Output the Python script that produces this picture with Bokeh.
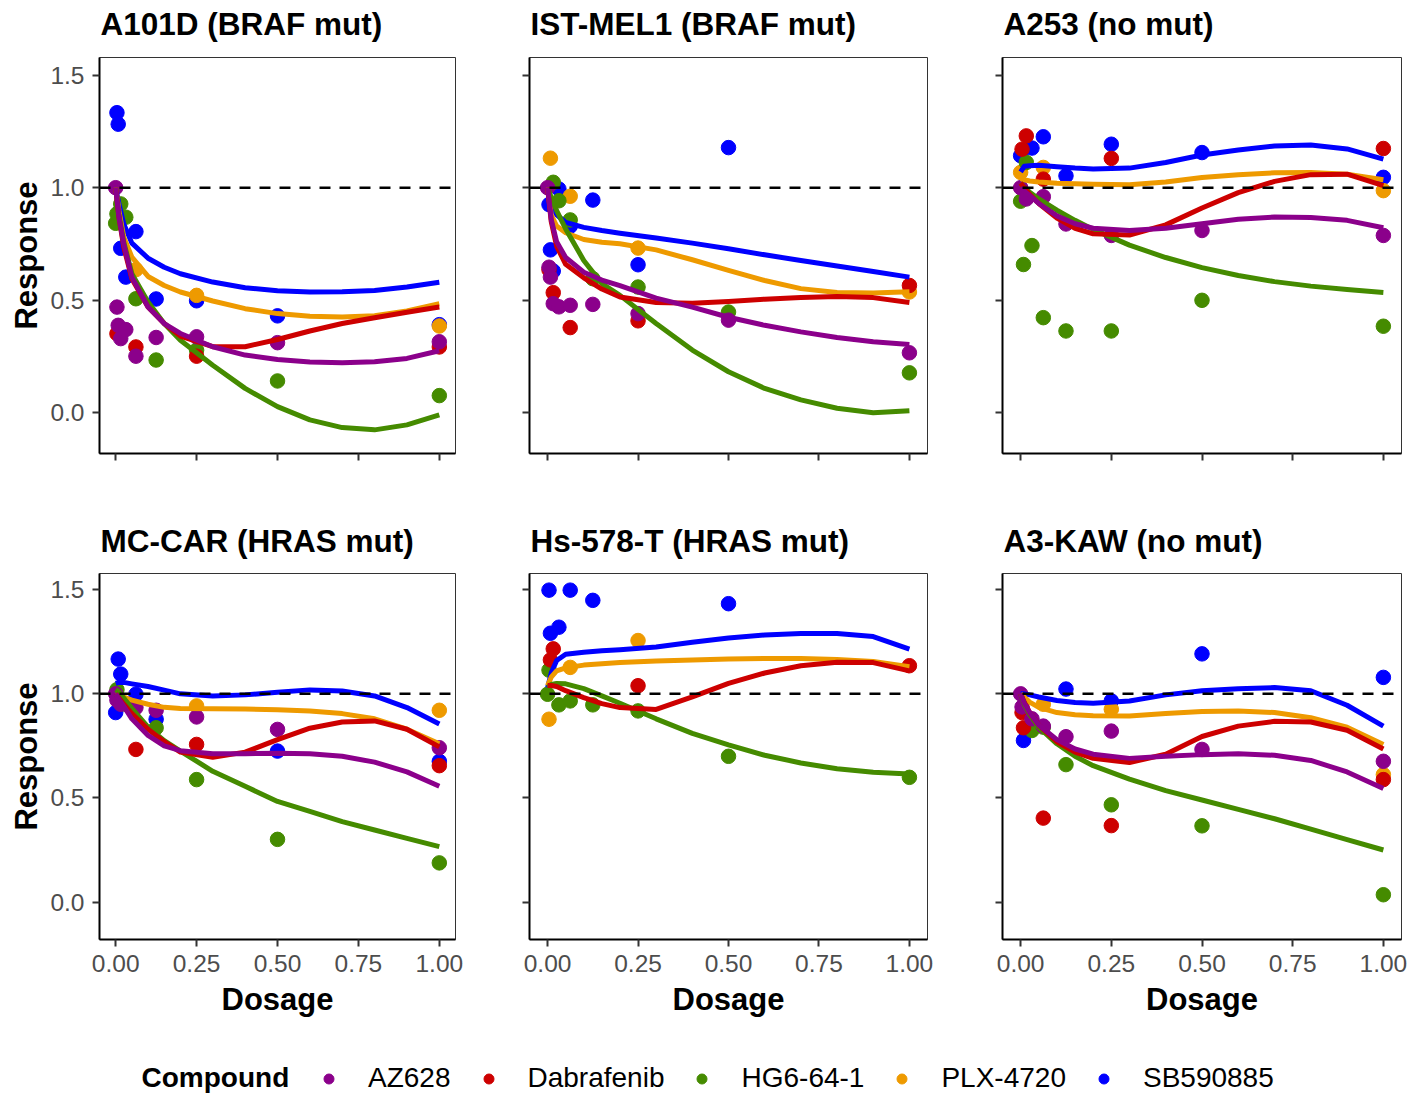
import numpy as np
from bokeh.plotting import figure
from bokeh.layouts import column, row
from bokeh.models import (Range1d, Span, FixedTicker, NumeralTickFormatter,
                          Legend, LegendItem, Label)
from bokeh.embed import file_html
from bokeh.resources import INLINE

FONT = "Liberation Sans"

COMPOUNDS = ["AZ628", "Dabrafenib", "HG6-64-1", "PLX-4720", "SB590885"]
COLORS = ["#8B008B", "#CD0000", "#458B00", "#EE9A00", "#0000FF"]

DOSES = [0, 1/256, 1/128, 1/64, 1/32, 1/16, 1/8, 1/4, 1/2, 1]
FIT_X = [0, 0.01, 0.025, 0.05, 0.1, 0.15, 0.2, 0.3, 0.4, 0.5, 0.6, 0.7, 0.8, 0.9, 1.0]
X_TICKS = [0, 0.25, 0.5, 0.75, 1.0]
Y_TICKS = [0, 0.5, 1.0, 1.5]

TITLES = ["A101D (BRAF mut)", "IST-MEL1 (BRAF mut)", "A253 (no mut)",
          "MC-CAR (HRAS mut)", "Hs-578-T (HRAS mut)", "A3-KAW (no mut)"]

# observed responses at DOSES (None = hidden behind other points)
resp_A101D = {
    "AZ628":      [1.0, 0.470, 0.389, 0.330, 0.370, 0.252, 0.335, 0.338, 0.312, 0.316],
    "Dabrafenib": [None, 0.352, None, None, None, 0.293, None, 0.252, None, 0.293],
    "HG6-64-1":   [0.842, 0.884, None, 0.928, 0.869, 0.507, 0.235, 0.279, 0.142, 0.077],
    "PLX-4720":   [None, None, None, None, None, 0.636, None, 0.522, None, 0.386],
    "SB590885":   [None, 1.333, 1.282, 0.731, 0.603, 0.805, 0.506, 0.498, 0.431, 0.392],
}
resp_ISTMEL1 = {
    "AZ628":      [1.0, 0.647, 0.603, 0.485, 0.471, 0.478, 0.482, 0.441, 0.412, 0.267],
    "Dabrafenib": [None, 0.636, None, 0.534, None, 0.379, None, 0.409, None, 0.566],
    "HG6-64-1":   [None, None, None, 1.024, 0.942, 0.857, 0.596, 0.559, 0.448, 0.178],
    "PLX-4720":   [None, None, 1.131, None, None, 0.962, None, 0.732, None, 0.537],
    "SB590885":   [None, 0.925, 0.724, 0.630, 0.994, 0.829, 0.945, 0.658, 1.178, None],
}
resp_A253 = {
    "AZ628":      [1.0, None, None, 0.950, None, 0.960, 0.839, 0.788, 0.810, 0.788],
    "Dabrafenib": [None, 1.171, None, 1.230, None, 1.038, None, 1.130, None, 1.174],
    "HG6-64-1":   [0.940, None, 0.659, 1.112, 0.743, 0.423, 0.364, 0.364, 0.500, 0.385],
    "PLX-4720":   [1.068, None, None, None, None, 1.090, None, None, None, 0.987],
    "SB590885":   [1.142, None, None, None, 1.176, 1.226, 1.053, 1.193, 1.156, 1.046],
}
resp_MCCAR = {
    "AZ628":      [1.0, 0.970, None, 0.950, None, 0.934, 0.921, 0.889, 0.829, 0.741],
    "Dabrafenib": [None, None, None, None, None, 0.733, None, 0.757, None, 0.655],
    "HG6-64-1":   [None, 1.020, None, None, 0.950, None, 0.837, 0.588, 0.301, 0.188],
    "PLX-4720":   [None, None, None, None, None, None, None, 0.942, None, 0.921],
    "SB590885":   [0.910, None, 1.167, 1.095, None, 0.998, 0.878, None, 0.725, 0.676],
}
resp_HS578T = {
    "AZ628":      [None] * 10,
    "Dabrafenib": [None, None, 1.163, 1.216, None, None, None, 1.039, None, 1.135],
    "HG6-64-1":   [0.998, 1.114, None, None, 0.947, 0.966, 0.947, 0.918, 0.700, 0.599],
    "PLX-4720":   [None, 0.878, None, None, None, 1.127, None, 1.256, None, None],
    "SB590885":   [None, 1.498, 1.291, None, 1.320, 1.498, 1.449, None, 1.433, None],
}
resp_A3KAW = {
    "AZ628":      [1.0, 0.937, None, None, 0.880, 0.845, 0.794, 0.821, 0.733, 0.676],
    "Dabrafenib": [None, 0.910, 0.837, None, None, 0.403, None, 0.367, None, 0.588],
    "HG6-64-1":   [None, None, None, None, 0.824, 0.840, 0.660, 0.467, 0.366, 0.035],
    "PLX-4720":   [None, None, None, None, None, 0.950, None, 0.926, None, 0.612],
    "SB590885":   [None, None, 0.776, None, None, None, 1.023, 0.966, 1.192, 1.079],
}

# smoothed trend values at FIT_X
fit_A101D = {
    "AZ628":      [1.0, 0.869, 0.750, 0.603, 0.470, 0.397, 0.353, 0.294, 0.257, 0.237, 0.226, 0.223, 0.227, 0.242, 0.276],
    "Dabrafenib": [1.0, 0.869, 0.736, 0.596, 0.470, 0.397, 0.341, 0.294, 0.294, 0.326, 0.364, 0.397, 0.423, 0.447, 0.470],
    "HG6-64-1":   [1.0, 0.883, 0.758, 0.618, 0.493, 0.397, 0.323, 0.212, 0.109, 0.028, -0.031, -0.065, -0.075, -0.053, -0.009],
    "PLX-4720":   [1.0, 0.898, 0.780, 0.692, 0.606, 0.566, 0.537, 0.497, 0.463, 0.441, 0.429, 0.426, 0.432, 0.453, 0.485],
    "SB590885":   [1.0, 0.928, 0.839, 0.754, 0.687, 0.647, 0.618, 0.581, 0.556, 0.543, 0.537, 0.538, 0.544, 0.559, 0.580],
}
fit_ISTMEL1 = {
    "AZ628":      [1.0, 0.860, 0.760, 0.690, 0.625, 0.590, 0.565, 0.510, 0.470, 0.425, 0.389, 0.360, 0.335, 0.316, 0.304],
    "Dabrafenib": [1.0, 0.850, 0.740, 0.660, 0.600, 0.550, 0.515, 0.490, 0.487, 0.495, 0.505, 0.513, 0.517, 0.512, 0.490],
    "HG6-64-1":   [1.0, 0.957, 0.898, 0.817, 0.677, 0.574, 0.522, 0.397, 0.279, 0.183, 0.109, 0.058, 0.021, 0.001, 0.010],
    "PLX-4720":   [1.0, 0.880, 0.830, 0.800, 0.770, 0.758, 0.751, 0.724, 0.680, 0.633, 0.588, 0.552, 0.535, 0.533, 0.538],
    "SB590885":   [1.0, 0.920, 0.880, 0.846, 0.824, 0.810, 0.798, 0.777, 0.754, 0.729, 0.702, 0.677, 0.652, 0.628, 0.603],
}
fit_A253 = {
    "AZ628":      [1.0, 0.985, 0.965, 0.930, 0.875, 0.840, 0.820, 0.810, 0.820, 0.840, 0.860, 0.870, 0.868, 0.855, 0.822],
    "Dabrafenib": [1.02, 1.0, 0.970, 0.930, 0.865, 0.820, 0.795, 0.790, 0.835, 0.910, 0.978, 1.028, 1.058, 1.060, 1.009],
    "HG6-64-1":   [1.02, 1.0, 0.980, 0.950, 0.900, 0.855, 0.815, 0.745, 0.690, 0.645, 0.610, 0.583, 0.563, 0.548, 0.535],
    "PLX-4720":   [1.04, 1.035, 1.030, 1.025, 1.020, 1.017, 1.015, 1.013, 1.025, 1.045, 1.058, 1.066, 1.068, 1.060, 1.035],
    "SB590885":   [1.07, 1.095, 1.097, 1.100, 1.093, 1.087, 1.083, 1.087, 1.112, 1.145, 1.167, 1.185, 1.190, 1.172, 1.127],
}
fit_MCCAR = {
    "AZ628":      [1.0, 0.975, 0.940, 0.880, 0.800, 0.750, 0.727, 0.712, 0.712, 0.715, 0.712, 0.700, 0.672, 0.625, 0.556],
    "Dabrafenib": [1.0, 0.980, 0.950, 0.905, 0.830, 0.770, 0.720, 0.695, 0.720, 0.780, 0.835, 0.865, 0.870, 0.830, 0.745],
    "HG6-64-1":   [1.02, 1.010, 0.980, 0.930, 0.840, 0.775, 0.725, 0.628, 0.556, 0.483, 0.435, 0.386, 0.346, 0.306, 0.266],
    "PLX-4720":   [1.0, 0.995, 0.985, 0.970, 0.950, 0.935, 0.930, 0.928, 0.927, 0.924, 0.918, 0.905, 0.880, 0.830, 0.760],
    "SB590885":   [1.05, 1.055, 1.055, 1.048, 1.035, 1.018, 1.0, 0.990, 0.995, 1.008, 1.019, 1.014, 0.990, 0.934, 0.855],
}
fit_HS578T = {
    "AZ628":      [None] * 15,
    "Dabrafenib": [1.04, 1.040, 1.035, 1.015, 0.982, 0.953, 0.934, 0.925, 0.985, 1.050, 1.100, 1.135, 1.152, 1.150, 1.110],
    "HG6-64-1":   [1.03, 1.045, 1.050, 1.048, 1.025, 0.990, 0.955, 0.880, 0.810, 0.755, 0.705, 0.668, 0.640, 0.623, 0.615],
    "PLX-4720":   [1.04, 1.080, 1.110, 1.125, 1.138, 1.145, 1.150, 1.158, 1.163, 1.167, 1.170, 1.170, 1.165, 1.155, 1.130],
    "SB590885":   [1.03, 1.100, 1.160, 1.190, 1.200, 1.207, 1.212, 1.225, 1.248, 1.268, 1.283, 1.290, 1.290, 1.275, 1.215],
}
fit_A3KAW = {
    "AZ628":      [1.0, 0.955, 0.910, 0.850, 0.780, 0.735, 0.710, 0.690, 0.700, 0.708, 0.712, 0.705, 0.680, 0.625, 0.545],
    "Dabrafenib": [1.0, 0.960, 0.910, 0.850, 0.770, 0.720, 0.690, 0.670, 0.710, 0.795, 0.845, 0.868, 0.865, 0.825, 0.735],
    "HG6-64-1":   [1.0, 0.950, 0.900, 0.840, 0.760, 0.700, 0.655, 0.590, 0.535, 0.490, 0.445, 0.400, 0.350, 0.300, 0.250],
    "PLX-4720":   [1.0, 0.985, 0.960, 0.935, 0.910, 0.900, 0.895, 0.893, 0.905, 0.915, 0.918, 0.910, 0.885, 0.840, 0.757],
    "SB590885":   [1.0, 1.0, 0.995, 0.985, 0.968, 0.958, 0.955, 0.966, 0.995, 1.015, 1.025, 1.030, 1.015, 0.945, 0.845],
}

RESPONSES = [resp_A101D, resp_ISTMEL1, resp_A253, resp_MCCAR, resp_HS578T, resp_A3KAW]
FITS = [fit_A101D, fit_ISTMEL1, fit_A253, fit_MCCAR, fit_HS578T, fit_A3KAW]

# layout geometry (px)
COL_W = [480, 475, 463]
MB_LEFT = [99, 49, 47]
MB_RIGHT = [25, 28, 17]
TITLE_H = [45, 52]        # height of the title strip above each row of panels
TITLE_MID = [22, 20]      # vertical middle of the title text, above strip bottom
ROW_H = [463, 468]
MB_TOP = [12, 13]
MB_BOTTOM = [55, 89]
LEGEND_H = 67
DRAW_ORDER = [4, 3, 2, 1, 0]
TOTAL_W = sum(COL_W)


def style_axis(ax, show_labels):
    ax.axis_line_color = "black"
    ax.axis_line_width = 2
    ax.major_tick_line_color = "#333333"
    ax.major_tick_line_width = 2
    ax.major_tick_out = 7
    ax.major_tick_in = 0
    ax.minor_tick_out = 0
    ax.minor_tick_in = 0
    ax.major_label_text_font = FONT
    ax.major_label_text_font_size = "24.5px"
    if show_labels:
        ax.major_label_text_color = "#4D4D4D"
        ax.major_label_standoff = 8
    else:
        ax.major_label_text_color = None
        ax.major_label_standoff = 0
    ax.axis_label_text_font = FONT
    ax.axis_label_text_font_size = "31px"
    ax.axis_label_text_font_style = "bold"
    ax.axis_label_text_color = "black"


def blank_strip(height):
    s = figure(width=TOTAL_W, height=height, x_range=Range1d(0, TOTAL_W), y_range=Range1d(0, height),
               output_backend="svg", toolbar_location=None, min_border=0, title=None,
               x_axis_location=None, y_axis_location=None)
    s.grid.visible = False
    s.outline_line_color = None
    return s


def title_strip(r):
    s = blank_strip(TITLE_H[r])
    left = 0
    for c in range(3):
        s.add_layout(Label(x=left + MB_LEFT[c] + 1, y=TITLE_MID[r], text=TITLES[3 * r + c],
                           text_font=FONT, text_font_size="31.5px", text_font_style="bold",
                           text_color="black", text_align="left", text_baseline="middle"))
        left += COL_W[c]
    return s


def make_panel(i):
    r, c = divmod(i, 3)
    p = figure(width=COL_W[c], height=ROW_H[r], title=None,
               x_range=Range1d(-0.05, 1.05), y_range=Range1d(-0.18, 1.578),
               output_backend="svg", toolbar_location=None,
               min_border_left=MB_LEFT[c], min_border_right=MB_RIGHT[c],
               min_border_top=MB_TOP[r], min_border_bottom=MB_BOTTOM[r])
    p.grid.visible = False
    p.outline_line_color = "#333333"
    p.outline_line_width = 1
    p.background_fill_color = "white"
    p.border_fill_color = "white"

    p.xaxis.ticker = FixedTicker(ticks=X_TICKS)
    p.xaxis.formatter = NumeralTickFormatter(format="0.00")
    p.yaxis.ticker = FixedTicker(ticks=Y_TICKS)
    p.yaxis.formatter = NumeralTickFormatter(format="0.0")
    style_axis(p.xaxis[0], r == 1)
    style_axis(p.yaxis[0], c == 0)
    if c == 0:
        p.yaxis.axis_label = "Response"
        p.yaxis.axis_label_standoff = 3
    if r == 1:
        p.xaxis.axis_label = "Dosage"
        p.xaxis.axis_label_standoff = 7

    resp = RESPONSES[i]
    fit = FITS[i]
    for k in DRAW_ORDER:
        y = np.array(resp[COMPOUNDS[k]], dtype=float)
        if np.all(np.isnan(y)):
            continue
        p.scatter(DOSES, y, size=14.5, color=COLORS[k])
    for k in DRAW_ORDER:
        y = np.array(fit[COMPOUNDS[k]], dtype=float)
        if np.all(np.isnan(y)):
            continue
        p.line(FIT_X, y, line_width=5, color=COLORS[k], line_join="round")
    p.add_layout(Span(location=1.0, dimension="width", line_color="black",
                      line_width=2.5, line_dash="11 9"))
    return p


panels = [make_panel(i) for i in range(6)]

# legend strip
lf = blank_strip(LEGEND_H)
items = []
for name, color in zip(COMPOUNDS, COLORS):
    # a single NaN point: nothing is plotted, but the legend can draw the swatch
    rr = lf.scatter(x=[np.nan], y=[np.nan], size=10, color=color)
    items.append(LegendItem(label=name, renderers=[rr]))
leg = Legend(items=items, orientation="horizontal", location=(316, 1),
             glyph_width=25, glyph_height=25, label_standoff=27, spacing=25,
             padding=0, margin=0, border_line_color=None, background_fill_alpha=0,
             label_text_font=FONT, label_text_font_size="28px", label_text_color="black")
lf.add_layout(leg)
lf.add_layout(Label(x=141, y=18, text="Compound", text_font=FONT, text_font_size="28px",
                    text_font_style="bold", text_baseline="middle", text_color="black"))

layout = column(title_strip(0),
                row(panels[0], panels[1], panels[2]),
                title_strip(1),
                row(panels[3], panels[4], panels[5]),
                lf)

open("out.html", "w").write(file_html(layout, INLINE))
